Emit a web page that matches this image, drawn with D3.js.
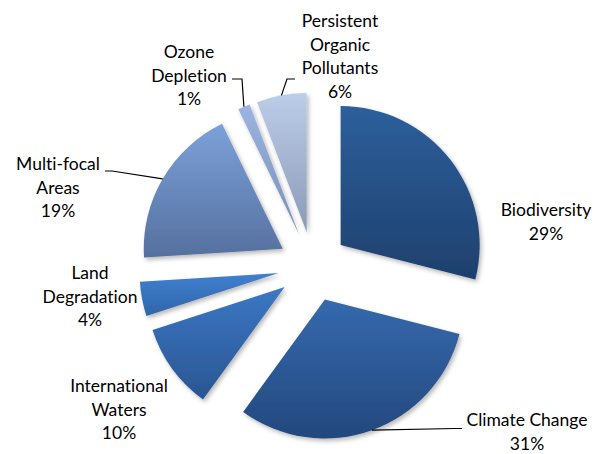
<!DOCTYPE html>
<html>
<head>
<meta charset="utf-8">
<script src="https://cdn.jsdelivr.net/npm/d3@7"></script>
<style>
  html, body { margin: 0; padding: 0; background: #fff; }
  svg { display: block; }
  text { font-family: Lato, "Open Sans", sans-serif; font-size: 17.5px; fill: #000;
         font-variant-ligatures: none; font-feature-settings: "liga" 0, "clig" 0; }
</style>
</head>
<body>
<svg id="chart" width="596" height="454"></svg>
<script>
// ---- data ----
const categories = ["Biodiversity", "Climate Change", "International Waters", "Land Degradation",
                    "Multi-focal Areas", "Ozone Depletion", "Persistent Organic Pollutants"];
const values = [29.0, 31.0, 10.0, 4.0, 18.8, 1.4, 5.8];
const percentLabels = ["29%", "31%", "10%", "4%", "19%", "1%", "6%"];
const labelLines = [["Biodiversity"], ["Climate Change"], ["International", "Waters"], ["Land", "Degradation"],
                    ["Multi-focal", "Areas"], ["Ozone", "Depletion"], ["Persistent", "Organic", "Pollutants"]];

// ---- styles / layout ----
const topColors = ["#2d5f9c", "#3569ad", "#3b78c4", "#3f80d0", "#7ca1d9", "#9bb4e1", "#bccde9"];
const bottomColors = ["#1e406d", "#23487e", "#2a5592", "#3065a9", "#55709f", "#7a8fb8", "#8a99b7"];
// label anchor (center x, first baseline y)
const labelAnchor = [[546, 216], [527, 426], [119, 392], [90, 279], [58, 170], [189, 58], [340, 27]];
// leader line start + elbow (null if none)
const leaders = [null, [[462, 428.5], [455, 428.5]], null, null,
                 [[105, 171], [112, 171]], [[232, 79], [242, 79]], [[295, 79], [287, 79]]];

const svg = d3.select("#chart");
const cx = 313, cy = 266.5, R = 139, explode = 35, lineH = 23.6;

const defs = svg.append("defs");
const f = defs.append("filter").attr("id", "shadow")
  .attr("x", "-20%").attr("y", "-20%").attr("width", "150%").attr("height", "150%");
f.append("feDropShadow").attr("dx", 2).attr("dy", 2.5).attr("stdDeviation", 2)
  .attr("flood-color", "#000").attr("flood-opacity", 0.28);

categories.forEach((c, i) => {
  const g = defs.append("linearGradient").attr("id", "grad" + i)
    .attr("x1", 0).attr("y1", 0).attr("x2", 0).attr("y2", 1);
  g.append("stop").attr("offset", "0%").attr("stop-color", topColors[i]);
  g.append("stop").attr("offset", "100%").attr("stop-color", bottomColors[i]);
});

const pie = d3.pie().sort(null).value(d => d);
const arcs = pie(values);
const arc = d3.arc().innerRadius(0).outerRadius(R);

const offset = (a, dist) => {
  const m = (a.startAngle + a.endAngle) / 2;
  return [Math.sin(m) * dist, -Math.cos(m) * dist];
};

const slices = svg.append("g");
slices.selectAll("path").data(arcs).enter().append("path")
  .attr("transform", d => { const o = offset(d, explode); return `translate(${cx + o[0]},${cy + o[1]})`; })
  .attr("d", arc)
  .attr("fill", (d, i) => `url(#grad${i})`)
  .attr("filter", "url(#shadow)");

// leader lines
const lineGen = d3.line();
arcs.forEach((a, i) => {
  if (!leaders[i]) return;
  const p = offset(a, explode + R);
  const pts = [leaders[i][0], leaders[i][1], [cx + p[0], cy + p[1]]];
  svg.append("path").attr("d", lineGen(pts)).attr("fill", "none")
    .attr("stroke", "#000").attr("stroke-width", 1.2);
});

// labels
categories.forEach((c, i) => {
  const t = svg.append("text").attr("text-anchor", "middle");
  const lines = labelLines[i].concat([percentLabels[i]]);
  lines.forEach((ln, k) => {
    t.append("tspan").attr("x", labelAnchor[i][0]).attr("y", labelAnchor[i][1] + k * lineH).text(ln);
  });
});
</script>
</body>
</html>
